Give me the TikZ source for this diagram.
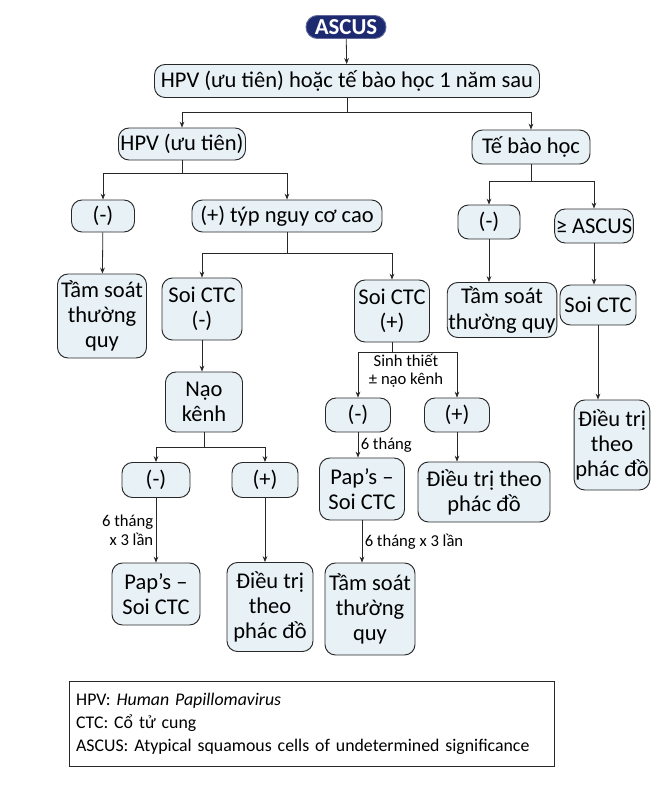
\documentclass[tikz,border=0pt]{standalone}
\usepackage{fontspec}
\setmainfont{Carlito}
\usetikzlibrary{positioning, arrows.meta, calc}
\definecolor{navy}{RGB}{30,42,112}
\definecolor{boxblue}{RGB}{232,241,246}
\definecolor{linegray}{RGB}{40,40,40}
\newcommand{\boxfont}{\fontsize{19.2}{21.5}\selectfont}
\newcommand{\notefont}{\fontsize{14.2}{15.5}\selectfont}
\tikzset{
  box/.style 2 args={
    draw=linegray, fill=boxblue, rounded corners=9pt, line width=0.8pt,
    minimum width=#1, minimum height=#2,
    align=center, inner sep=1pt, font=\boxfont
  },
  root/.style={
    draw=navy!70, fill=navy, text=white, rounded corners=0.34cm, line width=0.8pt,
    minimum width=2.4cm, minimum height=0.69cm,
    inner sep=1pt, font=\fontsize{19.5}{20}\selectfont\bfseries
  },
  note/.style={font=\notefont, inner sep=2pt},
  legend/.style={
    draw=linegray, line width=0.7pt, text width=14.15cm, inner xsep=0.2cm,
    minimum height=2.55cm, align=left, font=\fontsize{15.2}{19.5}\selectfont
  },
  arrow/.style={-{Stealth[length=5pt, width=4pt]}, line width=0.7pt, draw=linegray},
  link/.style={line width=0.7pt, draw=linegray}
}

\begin{document}
\begin{tikzpicture}[x=0.03cm, y=-0.03cm]
\useasboundingbox (0,0) rectangle (663,811);

%% top levels
\node[root] (ascus) at (346,27) {ASCUS};
\node[box={11.55cm}{0.99cm}] (first) at (347,81) {HPV (ưu tiên) hoặc tế bào học 1 năm sau};
\node[box={3.81cm}{0.96cm}] (hpv) at (182,144) {HPV (ưu tiên)};
\node[box={3.54cm}{1.02cm}] (tbh) at (531,147) {Tế bào học};

%% HPV branch
\node[box={1.89cm}{0.96cm}] (hneg) at (103,216) {(-)};
\node[box={5.7cm}{0.96cm}] (hpos) at (287,216) {(+) týp nguy cơ cao};
\node[box={2.67cm}{2.52cm}] (hts) at (102,316) {Tầm soát\\thường\\quy};
\node[box={2.4cm}{1.86cm}] (soineg) at (202,309) {Soi CTC\\(-)};
\node[box={2.25cm}{1.86cm}] (soipos) at (392,311) {Soi CTC\\(+)};

%% cytology branch
\node[box={1.86cm}{1.02cm}] (tneg) at (489,222) {(-)};
\node[box={2.28cm}{1.02cm}] (tasc) at (594,226) {≥ ASCUS};
\node[box={3.15cm}{1.65cm}] (tts) at (502,310) {Tầm soát\\thường quy};
\node[box={2.28cm}{1.2cm}] (tsoi) at (598,305) {Soi CTC};
\node[box={2.13cm}{2.7cm}] (tdt) at (612,445) {Điều trị\\theo\\phác đồ};

%% after colposcopy (-)
\node[box={2.31cm}{1.8cm}] (nao) at (204,402) {Nạo\\kênh};
\node[box={2.04cm}{1.05cm}] (lneg) at (156,480) {(-)};
\node[box={1.98cm}{1.05cm}] (lpos) at (265,480) {(+)};
\node[box={2.64cm}{1.86cm}] (lpap) at (156,594) {Pap’s –\\Soi CTC};
\node[box={2.58cm}{2.67cm}] (ldt) at (270,607) {Điều trị\\theo\\phác đồ};

%% after colposcopy (+)
\node[note, align=center] (bx) at (406,371) {Sinh thiết\\± nạo kênh};
\node[box={1.95cm}{1.02cm}] (mneg) at (358,415) {(-)};
\node[box={1.95cm}{1.02cm}] (mpos) at (457,415) {(+)};
\node[box={2.55cm}{1.86cm}] (mpap) at (362,489) {Pap’s –\\Soi CTC};
\node[box={3.96cm}{1.8cm}] (mdt) at (484,492) {Điều trị theo\\phác đồ};
\node[box={2.7cm}{2.76cm}] (mts) at (370,609) {Tầm soát\\thường\\quy};

%% legend
\node[legend] (key) at (312,724) {HPV: \textit{Human Papillomavirus}\\CTC: Cổ tử cung\\ASCUS: Atypical squamous cells of undetermined significance};

%% junctions
\coordinate (j1) at (347,112);
\coordinate (j2) at (182,173);
\coordinate (j3) at (531,181);
\coordinate (j4) at (287,253);
\coordinate (j5) at (392,352);
\coordinate (j6) at (204,447);

%% connectors
\draw[arrow] (ascus) -- (first);
\draw[link] (first.south) -- (j1);
\draw[arrow] (j1) -| (hpv.north);
\draw[arrow] (j1) -| (tbh.north);

\draw[link] (hpv.south) -- (j2);
\draw[arrow] (j2) -| (hneg.north);
\draw[arrow] (j2) -| (hpos.north);
\draw[arrow] (hneg) -- (hts);

\draw[link] (tbh.south) -- (j3);
\draw[arrow] (j3) -| (tneg.north);
\draw[arrow] (j3) -| (tasc.north);
\draw[arrow] (tneg.south) -- (tneg.south |- tts.north);
\draw[arrow] (tasc.south) -- (tasc.south |- tsoi.north);
\draw[arrow] (tsoi.south) -- (tsoi.south |- tdt.north);

\draw[link] (hpos.south) -- (j4);
\draw[arrow] (j4) -| (soineg.north);
\draw[arrow] (j4) -| (soipos.north);
\draw[arrow] (soineg.south) -- (soineg.south |- nao.north);

\draw[link] (nao.south) -- (j6);
\draw[arrow] (j6) -| (lneg.north);
\draw[arrow] (j6) -| (lpos.north);
\draw[arrow] (lneg) -- node[left, note, align=right]{6 tháng\\x 3 lần} (lpap);
\draw[arrow] (lpos.south) -- (lpos.south |- ldt.north);

\draw[link] (soipos.south) -- (j5);
\draw[arrow] (j5) -| (mneg.north);
\draw[arrow] (j5) -| (mpos.north);
\draw[arrow] (mneg.south) -- node[right, note]{6 tháng} (mneg.south |- mpap.north);
\draw[arrow] (mpos.south) -- (mpos.south |- mdt.north);
\draw[arrow] (mpap.south) -- node[right, note]{6 tháng x 3 lần} (mpap.south |- mts.north);

\end{tikzpicture}
\end{document}
